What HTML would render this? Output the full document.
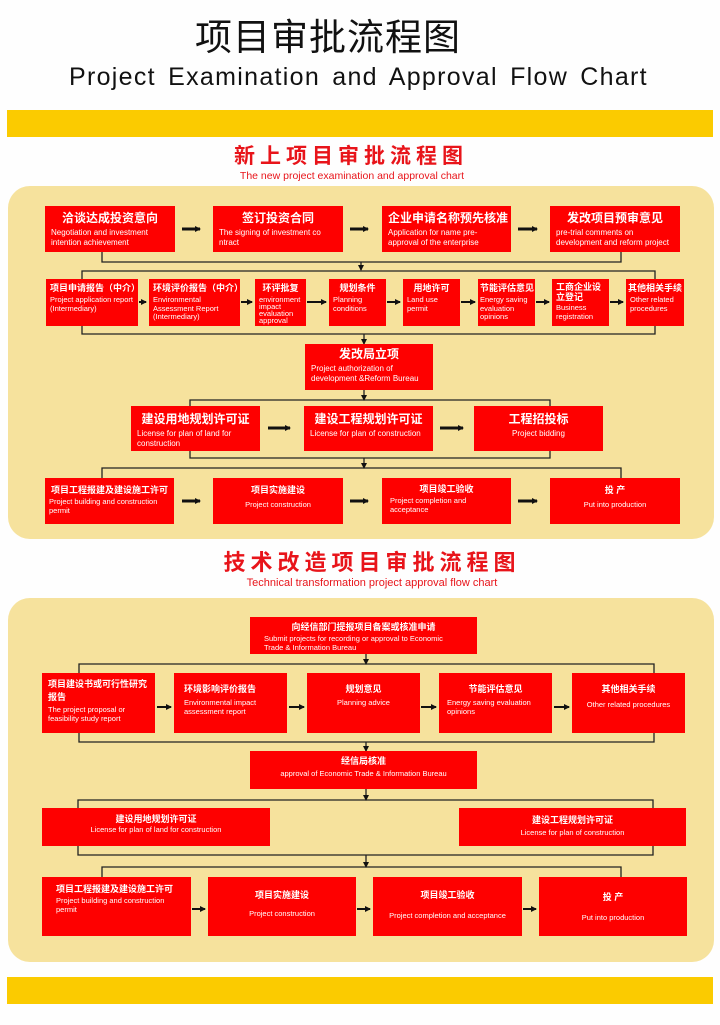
<!DOCTYPE html>
<html><head><meta charset="utf-8"><style>
*{margin:0;padding:0;box-sizing:border-box}
body{width:720px;height:1025px;background:#fefefe;position:relative;overflow:hidden;font-family:"Liberation Sans","Noto Sans CJK SC",sans-serif}
.a{position:absolute}
.panel{position:absolute;left:8px;width:706px;background:#f6e29d;border-radius:22px}
.bar{position:absolute;left:7px;width:706px;background:#fbcb00}
.b{position:absolute;background:#fe0000;color:#fff;padding:3px 6px;overflow:hidden}
.b h{display:block;font-weight:bold;font-size:12px;line-height:15px;text-align:center;white-space:nowrap}
.b p{font-size:8px;line-height:9.5px;margin-top:2px}
.s h{font-size:9px;line-height:12px}
.s p{font-size:7.5px;line-height:8.5px}
.c p{text-align:center}
svg{position:absolute;left:0;top:0}
</style></head><body>
<div class="a" style="left:195px;top:16px;font-size:37px;line-height:44px;color:#111;letter-spacing:1px">项目审批流程图</div>
<div class="a" style="left:69px;top:62px;font-size:25px;line-height:30px;color:#111;letter-spacing:1.3px;word-spacing:4px">Project Examination and Approval Flow Chart</div>
<div class="bar" style="top:110px;height:27px"></div>
<div class="a" style="left:0;width:702px;top:144px;text-align:center;font-size:21px;font-weight:bold;color:#e8141a;letter-spacing:5px;line-height:26px">新上项目审批流程图</div>
<div class="a" style="left:0;width:704px;top:170px;text-align:center;font-size:10.5px;color:#e8141a;line-height:13px">The new project examination and approval chart</div>
<div class="panel" style="top:186px;height:353px"></div>
<div class="a" style="left:0;width:744px;top:550px;text-align:center;font-size:22px;font-weight:bold;color:#e8141a;letter-spacing:5px;line-height:26px">技术改造项目审批流程图</div>
<div class="a" style="left:0;width:744px;top:577px;text-align:center;font-size:11px;color:#e8141a;line-height:13px">Technical transformation project approval flow chart</div>
<div class="panel" style="top:598px;height:364px"></div>
<div class="bar" style="top:977px;height:27px"></div>

<svg width="720" height="1025">
<defs><marker id="m" markerWidth="6" markerHeight="6" refX="5" refY="3" orient="auto" markerUnits="userSpaceOnUse"><path d="M0,0L6,3L0,6z" fill="#111"/></marker></defs>
<g stroke="#222" stroke-width="1.3" fill="none">
<polyline points="102,252 102,262 621,262 621,252"/>
<line x1="361" y1="262" x2="361" y2="270" marker-end="url(#m)"/>
<polyline points="82,279 82,271 655,271 655,279"/>
<polyline points="82,326 82,334 655,334 655,326"/>
<line x1="364" y1="334" x2="364" y2="344" marker-end="url(#m)"/>
<line x1="364" y1="390" x2="364" y2="400" marker-end="url(#m)"/>
<polyline points="190,406 190,400 550,400 550,406"/>
<polyline points="190,451 190,458 550,458 550,451"/>
<line x1="364" y1="458" x2="364" y2="468" marker-end="url(#m)"/>
<polyline points="102,478 102,468 621,468 621,478"/>
<line x1="366" y1="654" x2="366" y2="664" marker-end="url(#m)"/>
<polyline points="79,673 79,664 654,664 654,673"/>
<polyline points="79,733 79,742 654,742 654,733"/>
<line x1="366" y1="742" x2="366" y2="751" marker-end="url(#m)"/>
<line x1="366" y1="789" x2="366" y2="800" marker-end="url(#m)"/>
<polyline points="78,808 78,800 653,800 653,808"/>
<polyline points="78,846 78,855 653,855 653,846"/>
<line x1="366" y1="855" x2="366" y2="867" marker-end="url(#m)"/>
<polyline points="102,877 102,867 621,867 621,877"/>
</g>
<g stroke="#111" stroke-width="3" fill="none">
<line x1="182" y1="229" x2="200" y2="229" marker-end="url(#m)"/>
<line x1="350" y1="229" x2="368" y2="229" marker-end="url(#m)"/>
<line x1="518" y1="229" x2="537" y2="229" marker-end="url(#m)"/>
<line x1="268" y1="428" x2="290" y2="428" marker-end="url(#m)"/>
<line x1="440" y1="428" x2="463" y2="428" marker-end="url(#m)"/>
<line x1="182" y1="501" x2="200" y2="501" marker-end="url(#m)"/>
<line x1="350" y1="501" x2="368" y2="501" marker-end="url(#m)"/>
<line x1="518" y1="501" x2="537" y2="501" marker-end="url(#m)"/>
</g>
<g stroke="#111" stroke-width="2" fill="none">
<line x1="139" y1="302" x2="146" y2="302" marker-end="url(#m)"/>
<line x1="241" y1="302" x2="252" y2="302" marker-end="url(#m)"/>
<line x1="307" y1="302" x2="326" y2="302" marker-end="url(#m)"/>
<line x1="387" y1="302" x2="400" y2="302" marker-end="url(#m)"/>
<line x1="461" y1="302" x2="475" y2="302" marker-end="url(#m)"/>
<line x1="536" y1="302" x2="549" y2="302" marker-end="url(#m)"/>
<line x1="610" y1="302" x2="623" y2="302" marker-end="url(#m)"/>
<line x1="157" y1="707" x2="171" y2="707" marker-end="url(#m)"/>
<line x1="289" y1="707" x2="304" y2="707" marker-end="url(#m)"/>
<line x1="421" y1="707" x2="436" y2="707" marker-end="url(#m)"/>
<line x1="554" y1="707" x2="569" y2="707" marker-end="url(#m)"/>
<line x1="192" y1="909" x2="205" y2="909" marker-end="url(#m)"/>
<line x1="357" y1="909" x2="370" y2="909" marker-end="url(#m)"/>
<line x1="523" y1="909" x2="536" y2="909" marker-end="url(#m)"/>
</g>
</svg>

<div class="b" style="left:45px;top:206px;width:130px;height:46px;padding-top:5px"><h>洽谈达成投资意向</h><p>Negotiation and investment intention achievement</p></div>
<div class="b" style="left:213px;top:206px;width:130px;height:46px;padding-top:5px"><h>签订投资合同</h><p>The signing of investment co ntract</p></div>
<div class="b" style="left:382px;top:206px;width:129px;height:46px;padding-top:5px"><h>企业申请名称预先核准</h><p>Application for name pre-approval of the enterprise</p></div>
<div class="b" style="left:550px;top:206px;width:130px;height:46px;padding-top:5px"><h>发改项目预审意见</h><p>pre-trial comments on development and reform project</p></div>
<div class="b s" style="left:46px;top:279px;width:92px;height:47px;padding:3px 4px"><h>项目申请报告（中介）</h><p>Project application report (Intermediary)</p></div>
<div class="b s" style="left:149px;top:279px;width:91px;height:47px;padding:3px 4px"><h>环境评价报告（中介）</h><p>Environmental Assessment Report (Intermediary)</p></div>
<div class="b s" style="left:255px;top:279px;width:51px;height:47px;padding:3px 4px"><h>环评批复</h><p style="line-height:7px">environment impact evaluation approval</p></div>
<div class="b s" style="left:329px;top:279px;width:57px;height:47px;padding:3px 4px"><h>规划条件</h><p>Planning conditions</p></div>
<div class="b s" style="left:403px;top:279px;width:57px;height:47px;padding:3px 4px"><h>用地许可</h><p>Land use permit</p></div>
<div class="b s" style="left:478px;top:279px;width:57px;height:47px;padding:3px 2px"><h>节能评估意见</h><p>Energy saving evaluation opinions</p></div>
<div class="b s" style="left:552px;top:279px;width:57px;height:47px;padding:3px 4px"><h style="text-align:left;white-space:normal;line-height:10px">工商企业设立登记</h><p>Business registration</p></div>
<div class="b s" style="left:626px;top:279px;width:58px;height:47px;padding:3px 2px"><h>其他相关手续</h><p style="padding-left:2px">Other related procedures</p></div>
<div class="b" style="left:305px;top:344px;width:128px;height:46px"><h>发改局立项</h><p>Project authorization of development &amp;Reform Bureau</p></div>
<div class="b" style="left:131px;top:406px;width:129px;height:45px"><h style="margin-top:3px">建设用地规划许可证</h><p>License for plan of land for construction</p></div>
<div class="b" style="left:304px;top:406px;width:129px;height:45px"><h style="margin-top:3px">建设工程规划许可证</h><p>License for plan of construction</p></div>
<div class="b c" style="left:474px;top:406px;width:129px;height:45px"><h style="margin-top:3px">工程招投标</h><p>Project bidding</p></div>
<div class="b s" style="left:45px;top:478px;width:129px;height:46px;padding:6px 4px"><h>项目工程报建及建设施工许可</h><p>Project building and construction permit</p></div>
<div class="b s c" style="left:213px;top:478px;width:130px;height:46px;padding:6px 4px"><h>项目实施建设</h><p style="margin-top:5px">Project construction</p></div>
<div class="b s" style="left:382px;top:478px;width:129px;height:46px;padding:5px 8px"><h>项目竣工验收</h><p>Project completion and acceptance</p></div>
<div class="b s c" style="left:550px;top:478px;width:130px;height:46px;padding:6px 4px"><h>投 产</h><p style="margin-top:5px">Put into production</p></div>

<div class="b s" style="left:250px;top:617px;width:227px;height:37px;padding:4px 14px"><h>向经信部门提报项目备案或核准申请</h><p>Submit projects for recording or approval to Economic Trade &amp; Information Bureau</p></div>
<div class="b s" style="left:42px;top:673px;width:113px;height:60px;padding:5px 6px"><h style="text-align:left;white-space:normal;line-height:13px">项目建设书或可行性研究报告</h><p>The project proposal or feasibility study report</p></div>
<div class="b s" style="left:174px;top:673px;width:113px;height:60px;padding:10px 10px"><h style="text-align:left">环境影响评价报告</h><p style="margin-top:4px">Environmental impact assessment report</p></div>
<div class="b s c" style="left:307px;top:673px;width:113px;height:60px;padding:10px 4px"><h>规划意见</h><p style="margin-top:4px">Planning advice</p></div>
<div class="b s" style="left:439px;top:673px;width:113px;height:60px;padding:10px 8px"><h>节能评估意见</h><p style="margin-top:4px">Energy saving evaluation opinions</p></div>
<div class="b s c" style="left:572px;top:673px;width:113px;height:60px;padding:10px 2px"><h>其他相关手续</h><p style="margin-top:6px">Other related procedures</p></div>
<div class="b s c" style="left:250px;top:751px;width:227px;height:38px;padding:4px 4px"><h>经信局核准</h><p style="margin-top:3px">approval of Economic Trade &amp; Information Bureau</p></div>
<div class="b s c" style="left:42px;top:808px;width:228px;height:38px;padding:5px 4px"><h>建设用地规划许可证</h><p style="margin-top:1px">License for plan of land for construction</p></div>
<div class="b s c" style="left:459px;top:808px;width:227px;height:38px;padding:6px 4px"><h>建设工程规划许可证</h><p style="margin-top:3px">License for plan of construction</p></div>
<div class="b s" style="left:42px;top:877px;width:149px;height:59px;padding:6px 14px"><h style="text-align:left;white-space:normal;line-height:12px">项目工程报建及建设施工许可</h><p>Project building and construction permit</p></div>
<div class="b s c" style="left:208px;top:877px;width:148px;height:59px;padding:12px 4px"><h>项目实施建设</h><p style="margin-top:9px">Project construction</p></div>
<div class="b s c" style="left:373px;top:877px;width:149px;height:59px;padding:12px 2px"><h>项目竣工验收</h><p style="margin-top:11px">Project completion and acceptance</p></div>
<div class="b s c" style="left:539px;top:877px;width:148px;height:59px;padding:14px 4px"><h>投 产</h><p style="margin-top:11px">Put into production</p></div>
</body></html>
